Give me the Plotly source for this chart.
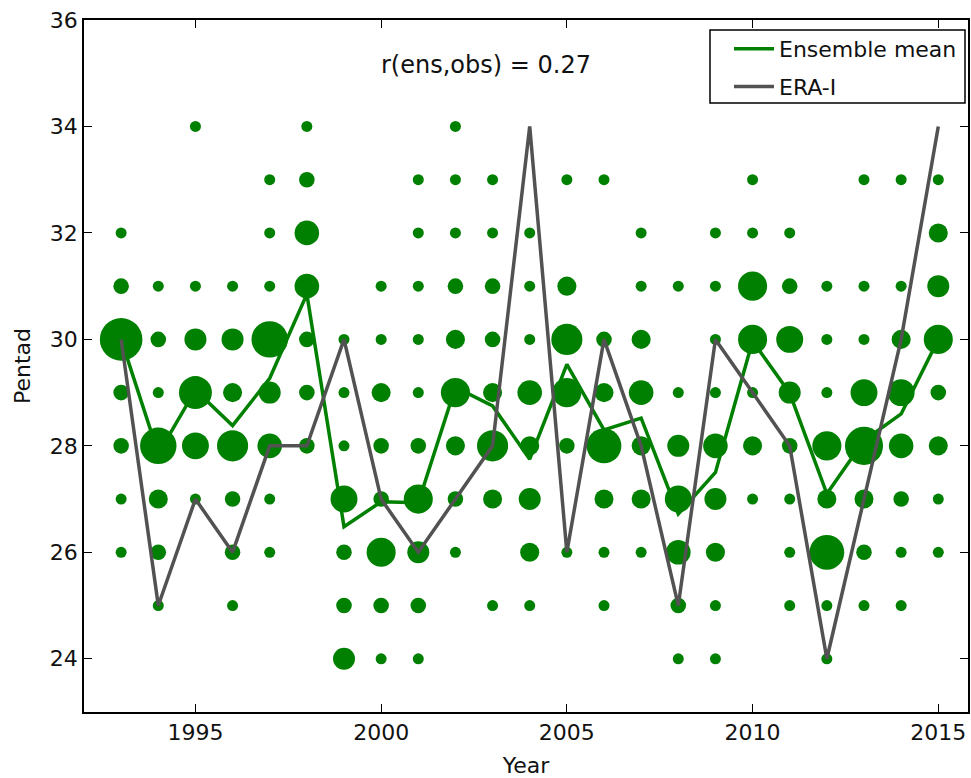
import plotly.graph_objects as go
import math

# ---------------- data ----------------
years = list(range(1993, 2016))

# Ensemble mean pentad per year (green line)
ens_mean = [30.0, 27.85, 29.05, 28.38, 29.27, 30.85, 26.48, 26.95, 26.93, 29.1,
            28.75, 27.75, 29.53, 28.3, 28.52, 26.72, 27.5, 29.97, 28.99, 27.1,
            28.1, 28.6, 30.0]

# ERA-Interim observed pentad per year (grey line)
era_i = [30, 25, 27, 26, 28, 28, 30, 27, 26, 27, 28, 34, 26, 30, 28, 25, 30, 29,
         28, 24, 27, 30, 34]

# Ensemble member pentads per year and how many members hit each pentad
bubble_pentads = [
    [32, 31, 30, 29, 28, 27, 26],              # 1993
    [31, 30, 29, 28, 27, 26, 25],              # 1994
    [34, 31, 30, 29, 28, 27],                  # 1995
    [31, 30, 29, 28, 27, 26, 25],              # 1996
    [33, 32, 31, 30, 29, 28, 27, 26],          # 1997
    [34, 33, 32, 31, 30, 29, 28],              # 1998
    [30, 29, 28, 27, 26, 25, 24],              # 1999
    [31, 30, 29, 28, 27, 26, 25, 24],          # 2000
    [33, 32, 31, 30, 29, 28, 27, 26, 25, 24],  # 2001
    [34, 33, 32, 31, 30, 29, 28, 27, 26],      # 2002
    [33, 32, 31, 30, 29, 28, 27, 25],          # 2003
    [32, 31, 30, 29, 28, 27, 26, 25],          # 2004
    [33, 31, 30, 29, 28, 26],                  # 2005
    [33, 30, 29, 28, 27, 26, 25],              # 2006
    [32, 31, 30, 29, 28, 27, 26],              # 2007
    [31, 29, 28, 27, 26, 25, 24],              # 2008
    [32, 31, 30, 29, 28, 27, 26, 25, 24],      # 2009
    [33, 32, 31, 30, 29, 28, 27],              # 2010
    [32, 31, 30, 29, 28, 27, 26, 25],          # 2011
    [31, 30, 29, 28, 27, 26, 25, 24],          # 2012
    [33, 31, 30, 29, 28, 27, 26, 25],          # 2013
    [33, 31, 30, 29, 28, 27, 26, 25],          # 2014
    [33, 32, 31, 30, 29, 28, 27, 26],          # 2015
]
bubble_counts = [
    [1, 2, 15, 2, 2, 1, 1],
    [1, 2, 1, 11, 3, 2, 1],
    [1, 1, 4, 9, 6, 1],
    [1, 4, 3, 8, 2, 2, 1],
    [1, 1, 1, 11, 4, 5, 1, 1],
    [1, 2, 5, 5, 2, 2, 2],
    [1, 1, 1, 6, 2, 2, 4],
    [1, 1, 3, 2, 2, 7, 2, 1],
    [1, 1, 1, 1, 1, 2, 7, 4, 2, 1],
    [1, 1, 1, 2, 3, 7, 3, 2, 1],
    [1, 1, 2, 2, 3, 8, 3, 1],
    [1, 1, 1, 5, 3, 4, 3, 1],
    [1, 3, 8, 7, 2, 1],
    [1, 2, 3, 10, 3, 1, 1],
    [1, 1, 3, 5, 3, 3, 1],
    [1, 1, 4, 6, 5, 2, 1],
    [1, 1, 1, 1, 5, 4, 3, 1, 1],
    [1, 1, 7, 7, 1, 3, 1],
    [1, 2, 6, 4, 2, 1, 1, 1],
    [1, 1, 1, 7, 3, 10, 1, 1],
    [1, 1, 1, 6, 12, 3, 2, 1],
    [1, 1, 3, 6, 5, 2, 1, 1],
    [1, 3, 4, 7, 2, 3, 1, 1],
]

x_ticks = [1995, 2000, 2005, 2010, 2015]
y_ticks = [24, 26, 28, 30, 32, 34, 36]
annotation_text = "r(ens,obs) = 0.27"

# ---------------- styling ----------------
GREEN = "#008000"
GREY = "#525252"
UNIT_D = 11.0  # marker diameter (px) for a single member
FONT = "DejaVu Sans"

# plot-area geometry in pixels (for the legend frame, in paper fractions)
PL, PR, PT, PB = 84, 968, 20, 712
def px_x(p): return (p - PL) / (PR - PL)
def px_y(p): return (PB - p) / (PB - PT)

bx, by, bs = [], [], []
for yr, ps, cs in zip(years, bubble_pentads, bubble_counts):
    for p, c in zip(ps, cs):
        bx.append(yr)
        by.append(p)
        bs.append(UNIT_D * math.sqrt(c))

fig = go.Figure()
fig.add_trace(go.Scatter(
    x=bx, y=by, mode="markers", showlegend=False,
    marker=dict(size=bs, color=GREEN, line=dict(width=0), opacity=1),
    hoverinfo="skip"))
fig.add_trace(go.Scatter(
    x=years, y=ens_mean, mode="lines", name="Ensemble mean",
    legendgroup="ens", line=dict(color=GREEN, width=3.5)))
fig.add_trace(go.Scatter(
    x=years, y=era_i, mode="lines", name="ERA-I",
    legendgroup="era", line=dict(color=GREY, width=3.5)))

axis_common = dict(
    showline=True, linecolor="black", linewidth=1.5, mirror="allticks",
    ticks="inside", ticklen=8, tickwidth=1, tickcolor="black",
    showgrid=False, zeroline=False,
    tickfont=dict(family=FONT, size=22, color="#111111"),
)

fig.update_layout(
    width=971, height=778,
    margin=dict(l=PL, r=971 - PR, t=PT, b=778 - PB, autoexpand=False),
    paper_bgcolor="white", plot_bgcolor="white",
    font=dict(family=FONT, color="#111111"),
    xaxis=dict(range=[1992, 2015.8], tickvals=x_ticks,
               title=dict(text="Year", font=dict(size=22), standoff=13),
               **axis_common),
    yaxis=dict(range=[23, 36], tickvals=y_ticks,
               title=dict(text="Pentad", font=dict(size=22), standoff=13),
               **axis_common),
    legend=dict(x=px_x(962), y=px_y(28), xanchor="right", yanchor="top",
                bgcolor="rgba(0,0,0,0)", borderwidth=0,
                font=dict(family=FONT, size=22, color="#111111"),
                itemwidth=40, tracegroupgap=6),
    shapes=[dict(type="rect", xref="paper", yref="paper", layer="above",
                 x0=px_x(710), x1=px_x(965), y0=px_y(103), y1=px_y(30),
                 line=dict(color="black", width=1.5), fillcolor="white")],
    annotations=[dict(text=annotation_text, xref="paper", yref="paper",
                      x=px_x(486), y=px_y(65), xanchor="center", yanchor="middle",
                      showarrow=False,
                      font=dict(family=FONT, size=24, color="#111111"))],
)

fig.write_html(
    "out.html",
    config={"displayModeBar": False},
    post_script="document.body.style.margin='0px';"
                "document.body.style.overflow='hidden';")
